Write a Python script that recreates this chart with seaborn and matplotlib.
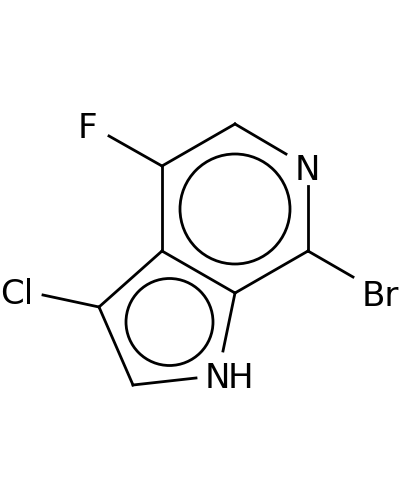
import pandas as pd
import matplotlib
matplotlib.use("Agg")
import matplotlib.pyplot as plt
import seaborn as sns

# atom positions (pixels, y going down)
bond_id = [0, 0, 1, 1, 2, 2, 3, 3, 4, 4, 5, 5, 6, 6, 7, 7, 8, 8, 9, 9, 10, 10, 11, 11, 12, 12]
bond_x = [109, 162, 162, 235, 235, 286, 308, 308, 308, 235, 235, 162, 162, 162,
          308, 353, 162, 99, 99, 43, 99, 133, 133, 196, 235, 223]
bond_y = [136, 166, 166, 124, 124, 154, 186, 251, 251, 293, 293, 251, 251, 166,
          251, 277, 251, 307, 307, 295, 307, 385, 385, 378, 293, 351]

ring_x = [235, 169.5]
ring_y = [209, 322]
ring_r = [55, 43.5]

# N and H of NH sit tighter than normal font spacing, so they go in separately
labels = ["F", "N", "Cl", "Br", "N", "H"]
label_x = [87.5, 307, 16.5, 380.5, 217.5, 240.5]
label_y = [128, 170, 294, 297, 379, 379]

df = pd.DataFrame({"bond": bond_id, "x": bond_x, "y": bond_y})

fig = plt.figure(figsize=(4, 5), dpi=100)
ax = fig.add_axes([0, 0, 1, 1])

sns.lineplot(data=df, x="x", y="y", units="bond", estimator=None, sort=False,
             color="black", linewidth=2.0, legend=False, ax=ax)

for cx, cy, r in zip(ring_x, ring_y, ring_r):
    ax.add_patch(plt.Circle((cx, cy), r, fill=False, edgecolor="black", linewidth=2.0))

for t, x, y in zip(labels, label_x, label_y):
    ax.text(x, y, t, ha="center", va="center", fontsize=24.5, color="black", family="DejaVu Sans")

ax.set_xlim(0, 400)
ax.set_ylim(500, 0)
ax.axis("off")

fig.savefig("out.png", dpi=100, facecolor="white")
